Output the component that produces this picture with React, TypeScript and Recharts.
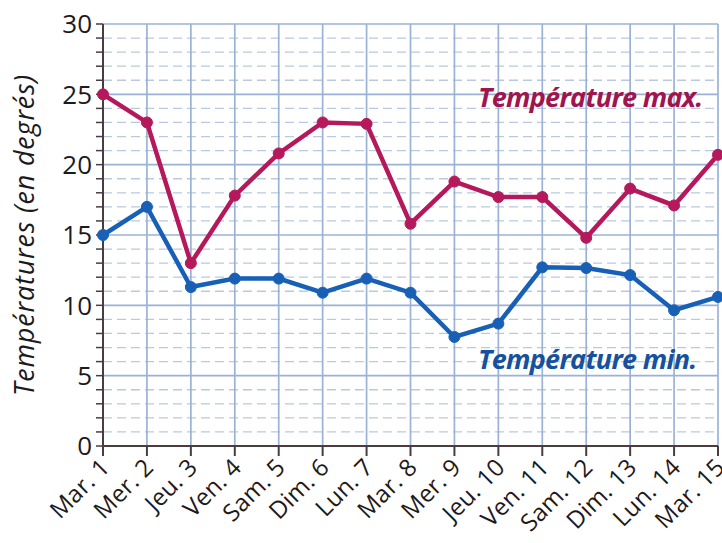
import React from 'react';
import { LineChart, Line, XAxis, YAxis, CartesianGrid } from 'recharts';

const days = ['Mar. 1', 'Mer. 2', 'Jeu. 3', 'Ven. 4', 'Sam. 5', 'Dim. 6', 'Lun. 7', 'Mar. 8', 'Mer. 9', 'Jeu. 10', 'Ven. 11', 'Sam. 12', 'Dim. 13', 'Lun. 14', 'Mar. 15'];
const maxTemps = [25, 23, 13, 17.8, 20.8, 23, 22.9, 15.8, 18.8, 17.7, 17.7, 14.8, 18.3, 17.1, 20.7];
const minTemps = [15, 17, 11.3, 11.9, 11.9, 10.9, 11.9, 10.9, 7.75, 8.7, 12.7, 12.65, 12.15, 9.65, 10.6];
const yTicks = [0, 1, 2, 3, 4, 5, 6, 7, 8, 9, 10, 11, 12, 13, 14, 15, 16, 17, 18, 19, 20, 21, 22, 23, 24, 25, 26, 27, 28, 29, 30];
const majorValues = [0, 5, 10, 15, 20, 25, 30];
const minorValues = [1, 2, 3, 4, 6, 7, 8, 9, 11, 12, 13, 14, 16, 17, 18, 19, 21, 22, 23, 24, 26, 27, 28, 29];

const data = days.map((d, i) => ({ day: d, max: maxTemps[i], min: minTemps[i] }));

const AXIS = '#4a3d42';
const FONT = '"Open Sans", "DejaVu Sans", sans-serif';
const MAXC = '#b5195b';
const MINC = '#1760b6';

const XTick = (props: any) => {
  const { x, y, payload } = props;
  const ax = x + 8;
  const ay = y + 11;
  return (
    <text x={ax} y={ay} transform={`rotate(-45 ${ax} ${ay})`} textAnchor="end" fontSize={24} letterSpacing={0.2} fontFamily={FONT} fill="#1d1a1b">
      {payload.value}
    </text>
  );
};

export default function App() {
  return (
    <div style={{ position: 'absolute', left: 0, top: 0, width: 722, height: 543, background: '#fff', overflow: 'hidden' }}>
      <LineChart width={722} height={543} data={data} margin={{ top: 24, right: 4, left: 0, bottom: 0 }}>
        <CartesianGrid horizontalValues={minorValues} vertical={false} stroke="#b8c9e0" strokeDasharray="9 5" strokeWidth={1.3} />
        <CartesianGrid horizontalValues={majorValues} stroke="#9ab2d6" strokeWidth={1.7} />
        <XAxis
          dataKey="day"
          height={97}
          tick={<XTick />}
          interval={0}
          tickSize={10}
          axisLine={{ stroke: AXIS, strokeWidth: 2 }}
          tickLine={{ stroke: AXIS, strokeWidth: 2 }}
        />
        <YAxis
          width={103}
          domain={[0, 30]}
          ticks={yTicks}
          interval={0}
          tickSize={7}
          tickMargin={4}
          tickFormatter={(v: number) => (v % 5 === 0 ? String(v) : '')}
          tick={{ fontSize: 26, fontFamily: FONT, fill: '#1d1a1b' }}
          axisLine={{ stroke: AXIS, strokeWidth: 2 }}
          tickLine={{ stroke: AXIS, strokeWidth: 1.5 }}
          label={{
            value: 'Températures (en degrés)',
            angle: -90,
            position: 'insideLeft',
            offset: 24,
            style: { textAnchor: 'middle', fontSize: 27, letterSpacing: 0.8, fontStyle: 'italic', fontFamily: FONT, fill: '#1d1a1b' },
          }}
        />
        <Line type="linear" dataKey="max" stroke={MAXC} strokeWidth={4.5} dot={{ r: 5.5, fill: MAXC, stroke: MAXC, strokeWidth: 1 }} isAnimationActive={false} />
        <Line type="linear" dataKey="min" stroke={MINC} strokeWidth={4.5} dot={{ r: 5.5, fill: MINC, stroke: MINC, strokeWidth: 1 }} isAnimationActive={false} />
      </LineChart>
      <svg width={722} height={543} style={{ position: 'absolute', left: 0, top: 0, pointerEvents: 'none' }}>
        <text x={478} y={107} fontSize={27} fontWeight="bold" fontStyle="italic" fontFamily={FONT} fill="#a0154f" letterSpacing={-0.7}>
          Température max.
        </text>
        <text x={478} y={369} fontSize={27} fontWeight="bold" fontStyle="italic" fontFamily={FONT} fill="#15519f" letterSpacing={-0.7}>
          Température min.
        </text>
      </svg>
    </div>
  );
}
